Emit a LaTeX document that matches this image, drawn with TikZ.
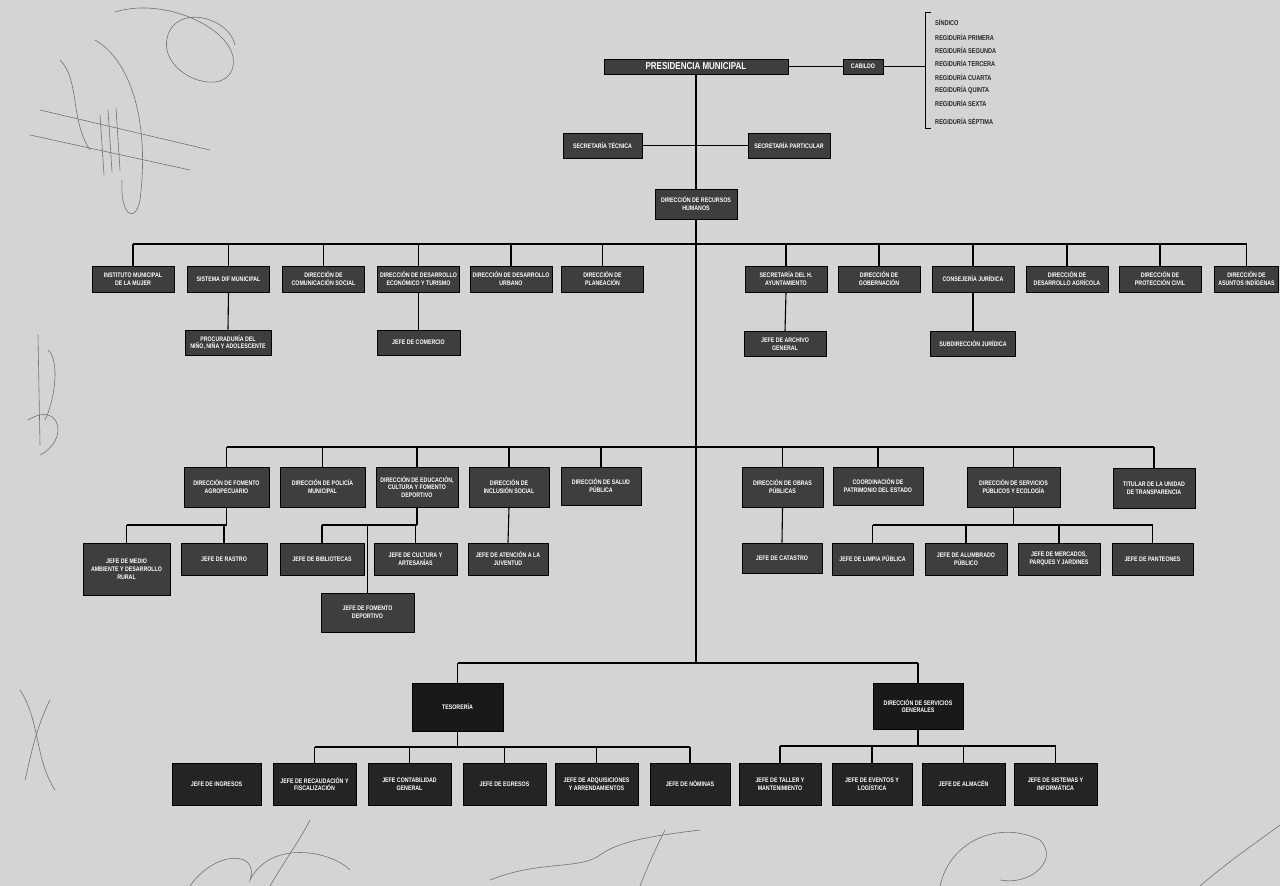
\documentclass[tikz,border=0pt]{standalone}
\usepackage{fontspec}
\setmainfont{Liberation Sans}
\newfontfamily\boxfont[FakeStretch=0.8]{Liberation Sans}
\definecolor{bg}{HTML}{D4D4D2}
\definecolor{boxg}{HTML}{3E3E3E}
\definecolor{boxd}{HTML}{242424}
\begin{document}
\begin{tikzpicture}[x=1pt,y=-1pt,
  unit/.style={draw=black, line width=0.7pt, fill=boxg, text=white, align=center, inner sep=0.5pt,
    font=\boxfont\bfseries\fontsize{6.6}{7.8}\selectfont},
  dark/.style={unit, fill=boxd},
  sz/.style 2 args={minimum width=#1pt, minimum height=#2pt},
  link/.style={draw=black, line width=1.1pt},
  sig/.style={draw=black!55, line width=0.6pt, line cap=round},
  listtext/.style={anchor=west, inner sep=0pt, text=black!85,
    font=\boxfont\bfseries\fontsize{7}{7}\selectfont}]

\fill[bg] (0,0) rectangle (1280,886);
\useasboundingbox (0,0) rectangle (1280,886);
\clip (0,0) rectangle (1280,886);

% ---------- scanned signatures ----------
\draw[sig] (115,12) .. controls (170,-5) and (245,35) .. (232,70) .. controls (220,100) and (150,70) .. (170,30) .. controls (185,5) and (230,20) .. (235,45);
\draw[sig] (95,40) .. controls (130,60) and (150,120) .. (140,200) .. controls (135,225) and (120,215) .. (122,180);
\draw[sig] (40,110) -- (210,150);
\draw[sig] (30,135) -- (190,170);
\draw[sig] (100,115) -- (104,175) (108,110) -- (112,172) (116,108) -- (120,170);
\draw[sig] (60,60) .. controls (80,80) and (70,120) .. (90,150);
\draw[sig] (38,335) -- (40,445) (48,350) .. controls (60,360) and (55,400) .. (45,420);
\draw[sig] (28,420) .. controls (60,400) and (70,440) .. (40,455);
\draw[sig] (20,690) .. controls (40,720) and (35,760) .. (55,790);
\draw[sig] (50,700) .. controls (35,730) and (30,760) .. (25,780);
\draw[sig] (190,886) .. controls (215,850) and (260,850) .. (250,880) .. controls (270,840) and (330,850) .. (350,870);
\draw[sig] (270,886) .. controls (285,860) and (300,840) .. (310,820);
\draw[sig] (490,880) .. controls (540,860) and (580,870) .. (600,855) .. controls (620,840) and (660,835) .. (700,830);
\draw[sig] (640,886) .. controls (650,860) and (660,840) .. (665,830);
\draw[sig] (940,886) .. controls (950,840) and (1000,820) .. (1040,840) .. controls (1060,860) and (1030,886) .. (1000,880);
\draw[sig] (1200,886) .. controls (1230,860) and (1260,840) .. (1280,825);

% ---------- top ----------
\node[unit, sz={184}{15}, font=\boxfont\bfseries\fontsize{10}{11}\selectfont] (pres) at (696,66.5) {PRESIDENCIA MUNICIPAL};
\node[unit, sz={40}{15}] (cab) at (863,66.5) {CABILDO};
\coordinate (brk) at (925,66.5);
\draw[line width=0.8pt] (931,12) -- (925,12) -- (925,128) -- (931,128);
\node[listtext] (l1) at (935,22) {SÍNDICO};
\node[listtext] (l2) at (935,37) {REGIDURÍA PRIMERA};
\node[listtext] (l3) at (935,50) {REGIDURÍA SEGUNDA};
\node[listtext] (l4) at (935,63) {REGIDURÍA TERCERA};
\node[listtext] (l5) at (935,77) {REGIDURÍA CUARTA};
\node[listtext] (l6) at (935,90) {REGIDURÍA QUINTA};
\node[listtext] (l7) at (935,103) {REGIDURÍA SEXTA};
\node[listtext] (l8) at (935,121) {REGIDURÍA SÉPTIMA};

\node[unit, sz={79}{25}] (sect) at (602.5,145.5) {SECRETARÍA TÉCNICA};
\node[unit, sz={82}{25}] (secp) at (789,145.5) {SECRETARÍA PARTICULAR};
\node[unit, sz={82}{30}] (rrhh) at (696,204) {DIRECCIÓN DE RECURSOS\\HUMANOS};

\draw[link] (pres.east) -- (cab.west);
\draw[link] (cab.east) -- (brk);
\draw[link] (sect.east) -- (secp.west);
\draw[link] (pres.south) -- (rrhh.north);

% ---------- row 3 ----------
\coordinate (hub3) at (696,244);
\coordinate (hub4) at (696,447);
\coordinate (hub5) at (696,663);
\draw[link] (rrhh.south) -- (hub5);

\foreach \n/\x/\w/\t in {A/133/82/{INSTITUTO MUNICIPAL\\DE LA MUJER},
  B/228.5/82/{SISTEMA DIF MUNICIPAL},
  C/323.5/82/{DIRECCIÓN DE\\COMUNICACIÓN SOCIAL},
  D/418.5/82/{DIRECCIÓN DE DESARROLLO\\ECONÓMICO Y TURISMO},
  E/511/82/{DIRECCIÓN DE DESARROLLO\\URBANO},
  F/602.5/82/{DIRECCIÓN DE\\PLANEACIÓN},
  G/786/82/{SECRETARÍA DEL H.\\AYUNTAMIENTO},
  H/879/82/{DIRECCIÓN DE\\GOBERNACIÓN},
  I/973/82/{CONSEJERÍA JURÍDICA},
  J/1067/82/{DIRECCIÓN DE\\DESARROLLO AGRÍCOLA},
  K/1160/82/{DIRECCIÓN DE\\PROTECCIÓN CIVIL},
  L/1246.5/64/{DIRECCIÓN DE\\ASUNTOS INDÍGENAS}}
{
  \node[unit, sz={\w}{26}] (\n) at (\x,279) {\t};
  \draw[link] (\n.north) -- (\n.north |- hub3);
}
\draw[link] (A.north |- hub3) -- (L.north |- hub3);

\node[unit, sz={86}{25}] (B1) at (228,342.5) {PROCURADURÍA DEL\\NIÑO, NIÑA Y ADOLESCENTE};
\node[unit, sz={83}{25}] (D1) at (418.5,342.5) {JEFE DE COMERCIO};
\node[unit, sz={82}{25}] (G1) at (785,344) {JEFE DE ARCHIVO\\GENERAL};
\node[unit, sz={85}{25}] (I1) at (973,344) {SUBDIRECCIÓN JURÍDICA};
\draw[link] (B.south) -- (B1.north);
\draw[link] (D.south) -- (D1.north);
\draw[link] (G.south) -- (G1.north);
\draw[link] (I.south) -- (I1.north);

% ---------- row 4 ----------
\node[unit, sz={85}{40}] (M) at (226.5,487) {DIRECCIÓN DE FOMENTO\\AGROPECUARIO};
\node[unit, sz={85}{40}] (N) at (322.5,487) {DIRECCIÓN DE POLICÍA\\MUNICIPAL};
\node[unit, sz={82}{40}] (O) at (417,487) {DIRECCIÓN DE EDUCACIÓN,\\CULTURA Y FOMENTO\\DEPORTIVO};
\node[unit, sz={80}{40}] (P) at (509,487) {DIRECCIÓN DE\\INCLUSIÓN SOCIAL};
\node[unit, sz={80}{38}] (Q) at (601,486) {DIRECCIÓN DE SALUD\\PÚBLICA};
\node[unit, sz={81}{40}] (R) at (782.5,487) {DIRECCIÓN DE OBRAS\\PÚBLICAS};
\node[unit, sz={90}{38}] (S) at (878,486) {COORDINACIÓN DE\\PATRIMONIO DEL ESTADO};
\node[unit, sz={93}{40}] (T) at (1013.5,487) {DIRECCIÓN DE SERVICIOS\\PÚBLICOS Y ECOLOGÍA};
\node[unit, sz={82}{40}] (U) at (1154,488) {TITULAR DE LA UNIDAD\\DE TRANSPARENCIA};
\foreach \n in {M,N,O,P,Q,R,S,T,U} {\draw[link] (\n.north) -- (\n.north |- hub4);}
\draw[link] (M.north |- hub4) -- (U.north |- hub4);

\coordinate (mb) at (226.5,525);
\coordinate (ob) at (417,525);
\coordinate (tb) at (1013.5,525);

\node[unit, sz={87}{52}] (M1) at (126.5,569) {JEFE DE MEDIO\\AMBIENTE Y DESARROLLO\\RURAL};
\node[unit, sz={86}{32}] (M2) at (224,559) {JEFE DE RASTRO};
\draw[link] (M.south) -- (mb);
\draw[link] (M1.north |- mb) -- (mb);
\draw[link] (M1.north) -- (M1.north |- mb);
\draw[link] (M2.north) -- (M2.north |- mb);

\node[unit, sz={84}{32}] (O1) at (322,559) {JEFE DE BIBLIOTECAS};
\node[unit, sz={83}{32}] (O2) at (415.5,559) {JEFE DE CULTURA Y\\ARTESANÍAS};
\node[unit, sz={93}{39}] (O3) at (367.5,612.5) {JEFE DE FOMENTO\\DEPORTIVO};
\draw[link] (O.south) -- (ob);
\draw[link] (O1.north |- ob) -- (ob);
\draw[link] (O1.north) -- (O1.north |- ob);
\draw[link] (O2.north) -- (O2.north |- ob);
\draw[link] (O3.north) -- (O3.north |- ob);

\node[unit, sz={80}{32}] (P1) at (508,559) {JEFE DE ATENCIÓN A LA\\JUVENTUD};
\draw[link] (P.south) -- (P1.north);

\node[unit, sz={80}{30}] (R1) at (782,558) {JEFE DE CATASTRO};
\draw[link] (R.south) -- (R1.north);

\node[unit, sz={81}{32}] (T1) at (872.5,559) {JEFE DE LIMPIA PÚBLICA};
\node[unit, sz={82}{32}] (T2) at (966,559) {JEFE DE ALUMBRADO\\PÚBLICO};
\node[unit, sz={82}{32}] (T3) at (1059,559) {JEFE DE MERCADOS,\\PARQUES Y JARDINES};
\node[unit, sz={81}{32}] (T4) at (1152.5,559) {JEFE DE PANTEONES};
\draw[link] (T.south) -- (tb);
\draw[link] (T1.north |- tb) -- (T4.north |- tb);
\foreach \n in {T1,T2,T3,T4} {\draw[link] (\n.north) -- (\n.north |- tb);}

% ---------- bottom ----------
\node[dark, sz={91}{48}, fill=black!90] (tes) at (457.5,707) {TESORERÍA};
\node[dark, sz={90}{46}, fill=black!90] (dsg) at (918,706) {DIRECCIÓN DE SERVICIOS\\GENERALES};
\draw[link] (tes.north |- hub5) -- (dsg.north |- hub5);
\draw[link] (tes.north) -- (tes.north |- hub5);
\draw[link] (dsg.north) -- (dsg.north |- hub5);

\coordinate (tesb) at (457.5,747);
\coordinate (dsgb) at (918,746);

\node[dark, sz={89}{42}] (b1) at (216.5,784) {JEFE DE INGRESOS};
\node[dark, sz={83}{42}] (b2) at (314.5,784) {JEFE DE RECAUDACIÓN Y\\FISCALIZACIÓN};
\node[dark, sz={83}{42}] (b3) at (409.5,784) {JEFE CONTABILIDAD\\GENERAL};
\node[dark, sz={83}{42}] (b4) at (504.5,784) {JEFE DE EGRESOS};
\node[dark, sz={83}{42}] (b5) at (596.5,784) {JEFE DE ADQUISICIONES\\Y ARRENDAMIENTOS};
\node[dark, sz={80}{42}] (b6) at (690,784) {JEFE DE NÓMINAS};
\node[dark, sz={82}{42}] (b7) at (780,784) {JEFE DE TALLER Y\\MANTENIMIENTO};
\node[dark, sz={80}{42}] (b8) at (872,784) {JEFE DE EVENTOS Y\\LOGÍSTICA};
\node[dark, sz={83}{42}] (b9) at (963.5,784) {JEFE DE ALMACÉN};
\node[dark, sz={83}{42}] (b10) at (1055.5,784) {JEFE DE SISTEMAS Y\\INFORMÁTICA};

\draw[link] (tes.south) -- (tesb);
\draw[link] (b2.north |- tesb) -- (b6.north |- tesb);
\foreach \n in {b2,b3,b4,b5,b6} {\draw[link] (\n.north) -- (\n.north |- tesb);}
\draw[link] (dsg.south) -- (dsgb);
\draw[link] (b7.north |- dsgb) -- (b10.north |- dsgb);
\foreach \n in {b7,b8,b9,b10} {\draw[link] (\n.north) -- (\n.north |- dsgb);}
\end{tikzpicture}
\end{document}
